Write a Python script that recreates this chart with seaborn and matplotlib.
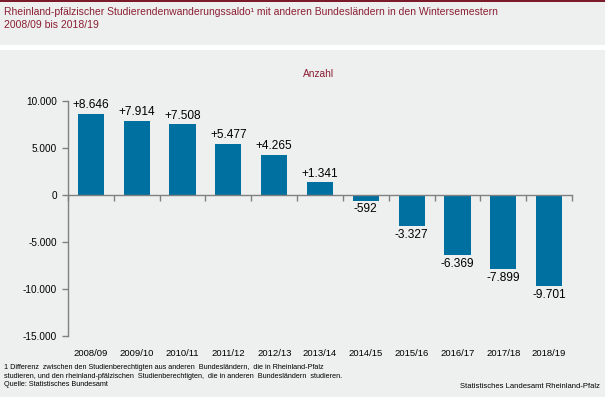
import matplotlib
matplotlib.use("Agg")
import matplotlib.pyplot as plt
import matplotlib.transforms as mtransforms
import seaborn as sns
import numpy as np

# data
semesters = ["2008/09", "2009/10", "2010/11", "2011/12", "2012/13", "2013/14",
             "2014/15", "2015/16", "2016/17", "2017/18", "2018/19"]
saldo = [8646, 7914, 7508, 5477, 4265, 1341, -592, -3327, -6369, -7899, -9701]
y_ticks = [-15000, -10000, -5000, 0, 5000, 10000]

bg = "#EEF0EF"
bar_col = "#0070A0"
red = "#8B1E33"
axis_col = "#808080"


def de_num(v, sign=False):
    s = f"{abs(v):,}".replace(",", ".")
    if v < 0:
        return "-" + s
    return ("+" + s) if sign else s


sns.set_theme(style="white")
plt.rcParams["font.family"] = ["Liberation Sans Narrow", "Liberation Sans", "DejaVu Sans"]

fig = plt.figure(figsize=(6.05, 3.97), dpi=100)
fig.patch.set_facecolor(bg)

# top red rule and white separator band
fig.add_artist(plt.Rectangle((0, 1 - 2 / 397), 1, 2 / 397, transform=fig.transFigure,
                             color="#7A1A2A", lw=0))
fig.add_artist(plt.Rectangle((0, 1 - 50 / 397), 1, 5 / 397, transform=fig.transFigure,
                             color="white", lw=0))

fig.text(4 / 605, 1 - 7 / 397,
         "Rheinland-pfälzischer Studierendenwanderungssaldo¹ mit anderen Bundesländern in den Wintersemestern\n2008/09 bis 2018/19",
         ha="left", va="top", color=red, fontsize=7.5, linespacing=1.35)

ax = fig.add_axes([68 / 605, 1 - 336 / 397, (572 - 68) / 605, (336 - 101) / 397])
ax.set_facecolor(bg)

sns.barplot(x=semesters, y=saldo, color=bar_col, width=0.57, saturation=1,
            linewidth=0, ax=ax)

ax.set_xlim(-0.5, len(semesters) - 0.5)
ax.set_ylim(y_ticks[0], y_ticks[-1])
ax.set_yticks(y_ticks)
ax.set_yticklabels([de_num(t) for t in y_ticks])
ax.set_xticks(np.arange(len(semesters) + 1) - 0.5)
ax.set_xticklabels([])
ax.set_xlabel("")
ax.set_ylabel("")

for s in ["top", "right"]:
    ax.spines[s].set_visible(False)
ax.spines["bottom"].set_position(("data", 0))
for s in ["left", "bottom"]:
    ax.spines[s].set_color(axis_col)
    ax.spines[s].set_linewidth(1)
ax.tick_params(axis="both", which="major", direction="out", length=4, width=1,
               color=axis_col, left=True, bottom=True)
ax.tick_params(axis="y", labelsize=7.2, pad=4, labelcolor="black")

# value labels
ax.bar_label(ax.containers[0], labels=[de_num(v, sign=True) for v in saldo],
             padding=2, fontsize=8.6, color="black")

# category labels below the plot area
trans = mtransforms.blended_transform_factory(ax.transData, ax.transAxes)
for i, lab in enumerate(semesters):
    ax.text(i, -18 / 235, lab, transform=trans, ha="center", va="center",
            fontsize=6.8, color="black")

fig.text(319 / 605, 1 - 74 / 397, "Anzahl", ha="center", va="center",
         color=red, fontsize=7.3)

fig.text(4 / 605, 1 - 364 / 397,
         "1 Differenz  zwischen den Studienberechtigten aus anderen  Bundesländern,  die in Rheinland-Pfalz\n"
         "studieren, und den rheinland-pfälzischen  Studienberechtigten,  die in anderen  Bundesländern  studieren.\n"
         "Quelle: Statistisches Bundesamt",
         ha="left", va="top", fontsize=5.2, color="black", linespacing=1.35)
fig.text(600 / 605, 1 - 387 / 397, "Statistisches Landesamt Rheinland-Pfalz",
         ha="right", va="center", fontsize=5.5, color="black")

fig.savefig("out.png", dpi=100, facecolor=fig.get_facecolor())
